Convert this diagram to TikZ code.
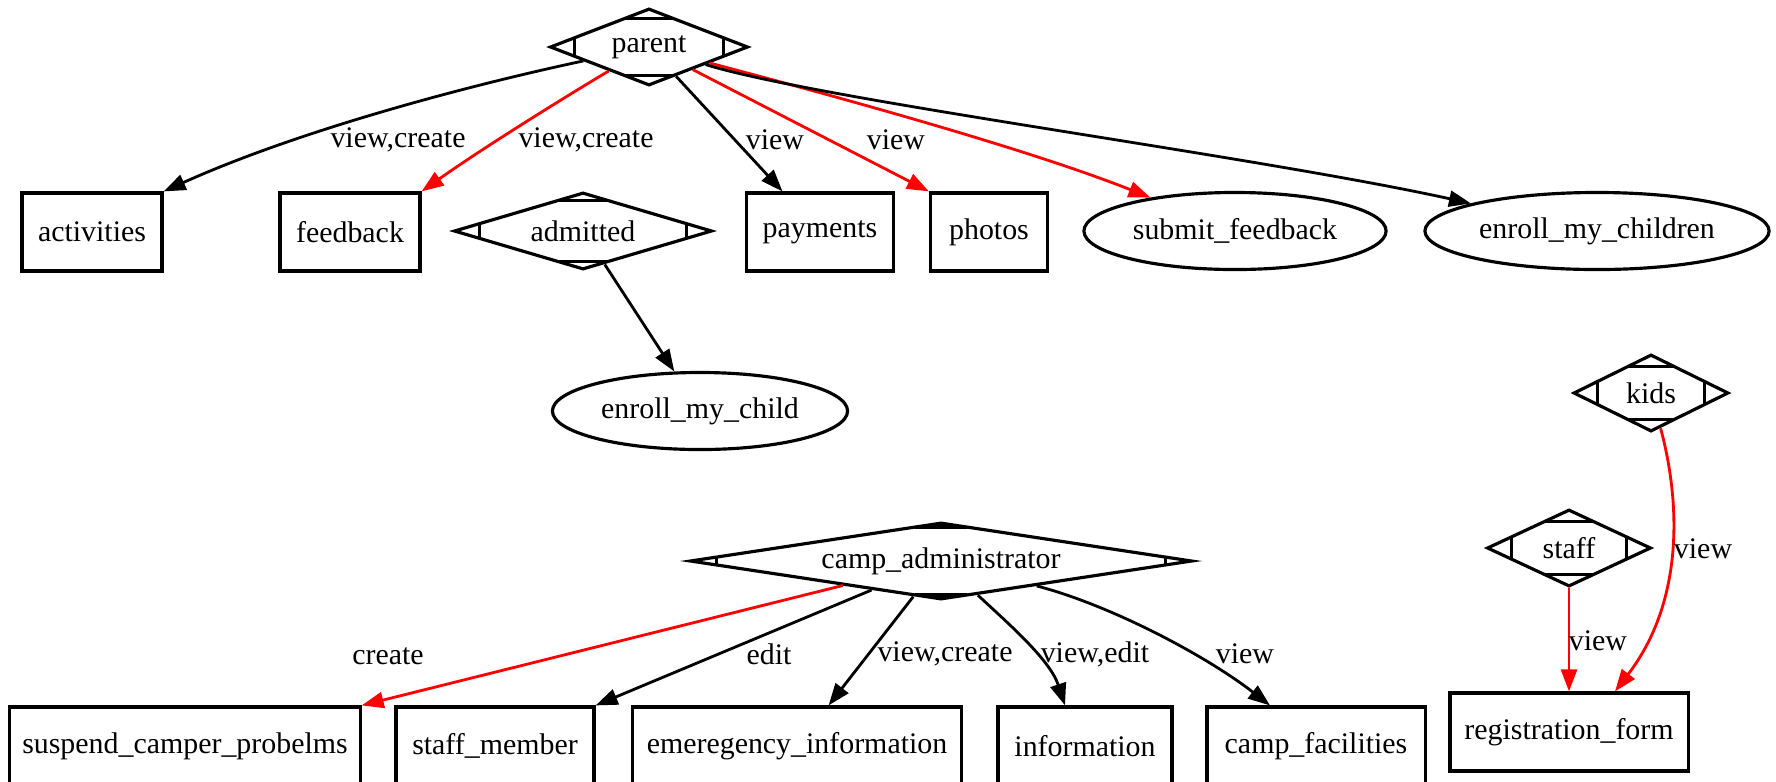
\documentclass[tikz,border=0pt]{standalone}
\usepackage{fontspec}
\setmainfont{Liberation Serif}
\usetikzlibrary{arrows.meta, positioning, shapes.geometric, calc}

\begin{document}
\begin{tikzpicture}[
				x=0.01cm, y=-0.01cm,
				every node/.style={font=\fontsize{8.5}{10}\selectfont},
				box/.style={
					rectangle,
					draw=black,
					line width=0.9pt,
					inner sep=0pt,
					minimum height=0.78cm
				},
				usecase/.style={
					ellipse,
					draw=black,
					line width=0.9pt,
					inner sep=0pt,
					minimum height=0.77cm
				},
				role/.style={
					diamond,
					draw=black,
					line width=0.9pt,
					inner sep=0pt,
					minimum height=0.77cm,
					path picture={
						\foreach \tip/\sa/\sb in {west/north/south, east/north/south, north/west/east, south/west/east}
						\draw[line width=0.9pt]
						($(path picture bounding box.\tip)!0.26cm!(path picture bounding box.\sa)$) --
						($(path picture bounding box.\tip)!0.26cm!(path picture bounding box.\sb)$);
					}
				},
				link/.style={line width=0.8pt, -{Triangle[length=2.2mm, width=1.6mm]}},
				redlink/.style={link, red}
				]
				
				\useasboundingbox (0,0) rectangle (1776,781);
				
				% Parent and what it reaches
				\node[role, minimum width=1.98cm, label={center:parent}] (parent) at (649,47) {};
				\node[box, minimum width=1.40cm] (activities) at (92,232) {activities};
				\node[box, minimum width=1.40cm] (feedback) at (350,232) {feedback};
				\node[role, minimum width=2.58cm, label={center:admitted}] (admitted) at (583,231) {};
				\node[box, minimum width=1.47cm] (payments) at (820,232) {payments};
				\node[box, minimum width=1.17cm] (photos) at (989,232) {photos};
				\node[usecase, minimum width=3.02cm] (submitfb) at (1235,231) {submit\_feedback};
				\node[usecase, minimum width=3.44cm] (enrollall) at (1597,231) {enroll\_my\_children};
				\node[usecase, minimum width=2.95cm] (enrollone) at (700,411) {enroll\_my\_child};
				
				% Kids and staff
				\node[role, minimum width=1.55cm, label={center:kids}] (kids) at (1651,393) {};
				\node[role, minimum width=1.64cm, label={center:staff}] (staff) at (1569,548) {};
				\node[box, minimum width=2.38cm] (regform) at (1569,732) {registration\_form};
				
				% Camp administrator
				\node[role, minimum width=5.02cm, label={center:camp\_administrator}] (campadmin) at (941,561) {};
				\node[box, minimum width=3.50cm] (suspend) at (185,746) {suspend\_camper\_probelms};
				\node[box, minimum width=1.98cm] (staffmember) at (495,746) {staff\_member};
				\node[box, minimum width=3.28cm] (emergency) at (797,746) {emeregency\_information};
				\node[box, minimum width=1.74cm] (information) at (1085,746) {information};
				\node[box, minimum width=2.18cm] (facilities) at (1316,746) {camp\_facilities};
				
				% Connectors
				\draw[link] (parent) .. controls (470,85) and (300,130) .. (activities.north east);
				\draw[redlink] (parent) .. controls (560,100) and (480,150) .. (feedback.north east);
				\draw[link] (parent) -- (payments);
				\draw[redlink] (parent) -- (photos.north west);
				\draw[redlink] (parent) .. controls (850,100) and (1030,150) .. (submitfb);
				\draw[link] (parent) .. controls (820,100) and (1250,155) .. (enrollall);
				\draw[link] (admitted) -- (enrollone);
				
				\draw[redlink] (kids) .. controls (1680,500) and (1685,600) .. ($(regform.north)+(46,0)$);
				\draw[redlink] (staff) -- (staff |- regform.north);
				
				\draw[redlink] (campadmin) -- (suspend.north east);
				\draw[link] (campadmin) -- (staffmember.north east);
				\draw[link] (campadmin) -- (emergency);
				\draw[link] (campadmin) .. controls (1010,625) and (1050,660) .. ($(information.north)+(-20,0)$);
				\draw[link] (campadmin) .. controls (1110,605) and (1205,655) .. ($(facilities.north)+(-46,0)$);
				
				% Labels
				\node (lblact) at (398,140) {view,create};
				\node (lblfb) at (586,140) {view,create};
				\node (lblpay) at (775,140) {view};
				\node (lblphoto) at (896,140) {view};
				\node (lblkids) at (1703,549) {view};
				\node (lblstaff) at (1598,641) {view};
				\node (lblsusp) at (388,656) {create};
				\node (lblstaffm) at (769,654) {edit};
				\node (lblemer) at (945,654) {view,create};
				\node (lblinfo) at (1095,654) {view,edit};
				\node (lblfac) at (1245,654) {view};
				
			\end{tikzpicture}
\end{document}
